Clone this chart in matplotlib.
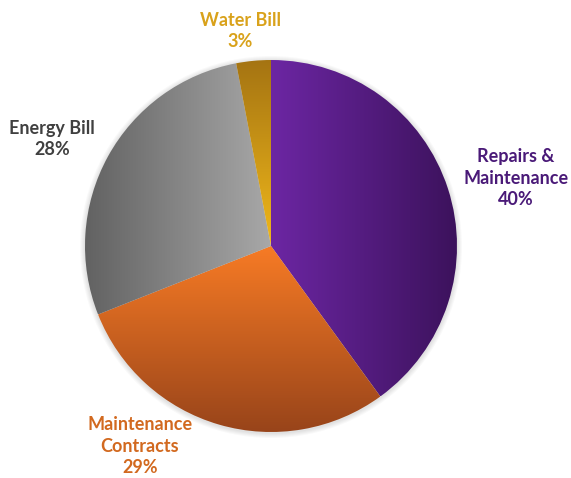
import numpy as np
import matplotlib.pyplot as plt
from matplotlib.patches import Circle
from matplotlib.colors import LinearSegmentedColormap

# values
labels = ["Repairs &\nMaintenance", "Maintenance\nContracts", "Energy Bill", "Water Bill"]
shares = [40, 29, 28, 3]
# gradient ends (start, end) and direction of each slice
grad_colors = [("#6C26A3", "#3C125C"), ("#F77B25", "#98441A"),
               ("#626262", "#A8A8A8"), ("#A57412", "#F0B81B")]
grad_dirs = ["h", "v", "h", "v"]
text_colors = ["#4A1A78", "#D2691F", "#404040", "#D9A21B"]
label_pos = [(516, 178), (140, 446), (52, 139), (240, 31)]

W, H = 571, 478
cx, cy, r = 271, 246, 186

plt.rcParams['font.family'] = ['Lato', 'DejaVu Sans']
fig = plt.figure(figsize=(W / 100, H / 100), dpi=100)
ax = fig.add_axes([0, 0, 1, 1])

# faint soft shadow round the pie
for dr in range(1, 6):
    ax.add_patch(Circle((cx, H - cy - 1), r + dr, color='k', alpha=0.025,
                        lw=0, zorder=0))

wedges, _ = ax.pie(shares, center=(cx, H - cy), radius=r, startangle=90,
                   counterclock=False, frame=True)

for w, (c0, c1), d in zip(wedges, grad_colors, grad_dirs):
    w.set_facecolor('none')
    w.set_edgecolor('none')
    ext = w.get_path().get_extents(w.get_patch_transform())
    g = np.linspace(0, 1, 256)
    # imshow puts row 0 at the top, so a column vector runs top -> bottom
    img = g[None, :] if d == "h" else g[:, None]
    cmap = LinearSegmentedColormap.from_list("g", [c0, c1])
    im = ax.imshow(img, cmap=cmap, extent=(ext.x0, ext.x1, ext.y0, ext.y1),
                   aspect='auto', interpolation='bilinear', zorder=1)
    im.set_clip_path(w)

ax.set_xlim(0, W)
ax.set_ylim(0, H)
ax.set_aspect('equal')
ax.axis('off')

for lab, s, col, (x, y) in zip(labels, shares, text_colors, label_pos):
    ax.text(x, H - y, f"{lab}\n{s}%", color=col, fontsize=13, fontweight='bold',
            ha='center', va='center', linespacing=1.3)

fig.savefig('out.png', dpi=100)
